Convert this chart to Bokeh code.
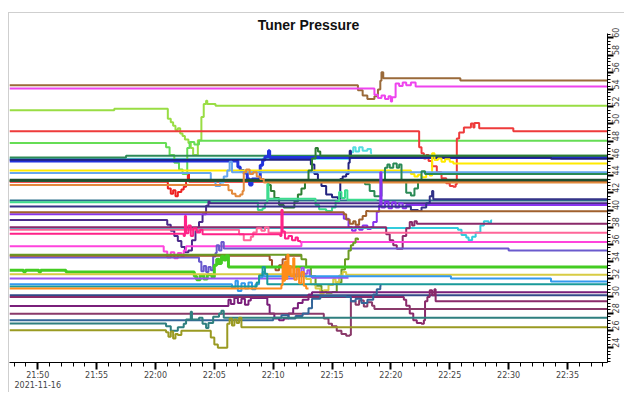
import math
from datetime import datetime, timedelta
from bokeh.plotting import figure
from bokeh.models import Range1d, FixedTicker, SingleIntervalTicker, DatetimeTickFormatter
from bokeh.embed import file_html
from bokeh.resources import INLINE

# Time axis: minutes after 2021-11-16 21:50:00; value: tuner pressure
T0 = datetime(2021, 11, 16, 21, 50, 0)

brown = [(-2.4,54.5),(27.2,53.9),(27.6,53.3),(28.0,52.9),(28.6,53.2),(28.9,54.0),(29.1,55.0),(29.2,56.0),(29.35,55.3),(35.9,55.05),(48.9,55.05)]
magenta = [(-2.4,54.1),(28.6,53.4),(28.9,53.0),(29.2,53.3),(29.5,52.9),(29.8,53.2),(30.0,52.6),(30.1,53.1),(30.4,54.7),(30.7,54.4),(31.0,54.8),(31.3,54.5),(31.7,54.8),(32.1,54.35),(48.9,54.35)]
yellowgreen = [(-2.4,51.6),(6.5,51.75),(11.05,50.6),(11.3,50.2),(11.5,49.8),(11.7,49.3),(11.9,49.5),(12.1,48.9),(12.3,48.6),(12.5,48.2),(12.8,47.8),(13.0,47.2),(13.2,46.4),(13.5,46.4),(13.6,48.1),(13.9,50.8),(14.1,52.3),(14.3,52.7),(14.4,52.3),(15.1,52.1),(48.9,52.1)]
green = [(-2.4,47.8),(10.9,47.3),(11.2,46.4),(11.6,45.5),(12.0,44.7),(12.3,44.2),(12.6,44.2),(12.7,47.2),(12.9,47.9),(13.3,47.6),(13.7,48.05),(48.9,48.05)]
red = [(-2.4,49.15),(32.4,47.3),(32.6,46.6),(32.8,46.0),(33.0,46.4),(33.2,45.7),(33.5,45.1),(33.9,44.4),(34.3,43.7),(34.7,43.1),(35.0,42.8),(35.3,42.7),(35.5,43.0),(35.6,48.3),(35.8,49.0),(36.2,49.6),(36.8,50.05),(37.0,49.6),(37.1,50.1),(37.5,49.5),(40.4,49.15),(48.9,49.15)]
cyan_top = [(-2.4,45.95),(26.6,46.7),(26.8,47.3),(27.0,46.8),(27.3,47.3),(27.6,46.9),(28.0,47.1),(28.3,46.6),(28.4,46.6)]
seagreen_dark = [(-2.4,46.1),(7.5,46.3),(48.9,46.3)]
blue = [(-2.4,45.7),(17.0,45.0),(17.2,44.6),(17.5,44.3),(17.8,43.6),(18.0,42.9),(18.2,43.6),(18.6,43.6),(18.9,45.2),(19.1,45.8),(19.3,46.2),(19.6,46.9),(19.7,46.1),(48.9,46.1)]
navy = [(-2.4,45.85),(23.2,45.3),(23.5,44.2),(23.8,43.5),(24.1,42.8),(24.5,41.8),(25.0,41.5),(25.5,41.3),(25.7,43.6),(25.9,43.9),(26.2,44.2),(26.4,45.5),(26.5,46.9),(26.6,46.1),(43.6,45.95),(48.9,45.95)]
yellow = [(-2.4,44.6),(31.7,44.2),(32.0,43.9),(32.3,44.1),(32.6,43.8),(33.0,44.2),(33.3,44.0),(33.5,46.6),(33.7,45.8),(34.0,46.0),(34.3,45.6),(34.6,45.9),(35.0,45.6),(35.3,45.4),(48.9,45.4)]
lightblue = [(-2.4,44.3),(14.7,43.4),(15.1,42.8),(15.5,43.2),(15.8,43.9),(16.1,44.6),(16.3,45.6),(16.5,44.4),(48.9,44.4)]
darkgreen1 = [(-2.4,43.4),(19.6,42.9),(19.8,42.2),(20.1,41.4),(20.5,40.6),(20.9,40.3),(21.5,40.3),(21.8,41.0),(22.1,41.8),(22.4,42.5),(22.7,43.5),(23.0,44.6),(23.3,46.0),(23.6,47.2),(23.8,46.8),(24.0,46.3),(48.9,46.3)]
darkgreen2 = [(-2.4,43.4),(27.8,43.0),(28.2,42.2),(28.6,41.6),(29.0,41.6),(29.2,43.5),(29.5,44.9),(29.7,45.3),(29.9,44.9),(30.2,45.4),(30.5,44.9),(30.7,45.3),(30.9,43.5),(31.3,42.0),(31.7,41.7),(32.0,42.5),(32.3,43.5),(32.6,44.5),(32.9,44.2),(48.9,44.2)]
red2 = [(-2.4,43.3),(11.05,42.5),(11.3,41.9),(11.5,42.3),(11.7,41.6),(11.9,42.1),(12.2,42.4),(12.4,42.7),(12.6,43.5),(12.75,44.3),(12.85,43.3),(48.9,43.3)]
darkgreen_thick = [(-2.4,43.45),(48.9,43.45)]
orange = [(-2.4,42.9),(16.2,42.3),(16.5,41.9),(16.8,41.6),(17.2,41.8),(17.4,42.2),(17.5,44.4),(17.7,44.7),(18.0,44.2),(18.3,44.4),(18.6,43.9),(18.9,43.6),(19.2,43.2),(48.9,43.2)]
teal_top = [(-2.4,41.1),(48.9,41.2)]
seagreen = [(-2.4,40.9),(18.7,40.0),(19.1,40.2),(19.3,40.8),(19.5,43.0),(19.6,41.3),(23.6,40.6),(23.9,40.1),(24.5,39.9),(25.0,40.3),(25.3,41.0),(25.6,42.1),(25.8,41.4),(26.1,42.3),(26.3,41.2),(28.8,41.2)]
indigo = [(-2.4,38.84),(11.0,38.3),(11.3,37.6),(11.6,37.0),(11.9,36.4),(12.2,35.7),(12.5,35.1),(12.8,35.3),(13.1,36.5),(13.4,37.6),(13.7,38.6),(14.0,39.5),(14.3,40.5),(14.5,41.0),(14.6,40.8),(48.9,40.8)]
violet = [(-2.4,39.5),(26.0,39.0),(26.4,38.0),(26.7,37.6),(27.0,38.1),(27.3,37.7),(27.6,38.2),(28.0,37.8),(28.3,38.0),(28.5,38.6),(28.8,39.8),(29.0,40.6),(29.1,44.4),(29.2,40.3),(29.5,41.0),(29.8,40.2),(30.1,40.9),(30.4,40.3),(30.7,40.8),(31.0,40.2),(31.3,40.6),(48.9,40.6)]
navy2 = [(-2.4,40.4),(31.7,40.0),(32.3,39.9),(32.6,40.3),(33.0,40.8),(33.3,41.6),(33.5,42.2),(33.6,41.25),(48.9,41.25)]
brown2 = [(-2.4,39.74),(26.0,39.5),(26.2,38.9),(26.5,38.4),(26.8,38.7),(27.0,38.3),(27.3,38.9),(27.6,39.3),(27.9,39.9),(28.1,39.85),(48.9,39.85)]
cyan2 = [(-2.4,37.93),(35.7,37.7),(36.0,37.1),(36.4,36.8),(36.6,36.5),(36.9,36.9),(37.2,37.4),(37.6,38.2),(37.9,38.7),(38.3,38.5),(38.5,38.8),(38.6,38.8)]
plum = [(-2.4,38.0),(29.6,37.2),(29.9,36.5),(30.2,35.9),(30.5,35.5),(30.9,35.5),(31.0,37.0),(31.3,37.9),(31.6,38.6),(31.8,38.2),(32.0,38.7),(32.2,38.4),(48.9,38.4)]
pink = [(-2.4,37.7),(17.1,37.2),(17.5,36.5),(18.1,36.9),(18.3,37.4),(18.6,37.9),(19.0,37.6),(19.3,38.0),(19.6,37.36),(48.9,37.36)]
deeppink = [(-2.4,37.25),(12.4,37.0),(12.5,39.3),(12.6,37.3),(12.8,38.2),(13.0,37.0),(13.2,37.9),(13.5,37.4),(13.8,37.7),(14.0,37.2),(20.6,37.0),(20.7,40.0),(20.8,37.5),(21.0,36.7),(21.3,37.0),(21.6,36.5),(21.9,36.8),(22.1,36.4),(22.3,36.3),(48.9,36.3)]
magenta2 = [(-2.4,35.8),(10.7,35.2),(11.0,34.5),(11.3,35.1),(11.6,34.4),(11.9,35.0),(12.2,34.6),(12.4,35.3),(12.6,35.8),(22.4,36.3),(48.9,36.3)]
slate = [(-2.4,34.5),(13.7,34.0),(13.9,32.9),(14.1,33.5),(14.3,32.8),(14.5,33.4),(14.7,33.0),(14.9,34.6),(15.1,35.0),(15.2,35.9),(15.4,35.3),(15.6,36.3),(15.8,35.55),(40.0,35.3),(48.9,35.3)]
sienna = [(-2.4,34.7),(19.7,34.2),(19.9,33.4),(20.2,33.0),(20.5,33.6),(20.8,34.3),(21.1,34.7),(22.4,34.7)]
olivedrab = [(-2.4,34.8),(22.4,34.3),(22.8,33.4),(23.2,32.3),(23.6,31.2),(24.1,30.6),(24.5,30.4),(25.0,30.5),(25.4,31.6),(25.8,33.1),(26.1,34.3),(26.4,35.3),(26.6,35.9),(26.8,36.2),(27.0,36.7),(27.2,36.5)]
green_bright = [(-2.4,33.0),(-1.2,32.8),(-1.05,33.0),(0.1,32.8),(0.25,33.0),(2.4,32.8),(13.3,32.3),(13.5,31.9),(13.8,32.4),(14.1,32.0),(14.4,32.5),(14.8,32.2),(15.0,33.6),(15.2,34.3),(15.4,33.8),(15.6,34.6),(15.8,34.2),(16.0,34.7),(16.2,33.4),(48.9,33.4)]
tan = [(-2.4,32.55),(22.8,32.0),(23.2,31.4),(23.6,30.9),(24.0,30.3),(24.3,30.7),(24.7,31.3),(25.1,32.0),(25.3,31.6),(25.6,32.4),(25.9,32.8),(26.2,32.5),(48.9,32.5)]
violet2 = [(-2.4,32.04),(21.8,32.5),(22.0,33.1),(22.2,32.4),(22.4,33.3),(22.6,32.6),(22.9,33.0),(23.1,32.3),(23.3,32.15),(26.4,32.15)]
dodgerblue = [(-2.4,31.4),(16.5,31.0),(16.8,31.8),(17.0,30.6),(17.3,31.5),(17.6,30.9),(17.9,31.6),(18.2,30.8),(18.5,31.4),(18.8,32.2),(19.1,32.8),(19.2,32.3),(35.1,32.04),(43.6,31.7),(48.9,31.7)]
teal3 = [(-2.4,31.13),(18.6,31.6),(18.8,32.4),(19.1,33.4),(19.3,32.6),(19.5,31.4),(48.9,31.4)]
orange2 = [(-2.4,30.9),(20.7,31.3),(20.8,33.6),(20.9,31.8),(21.0,34.0),(21.1,32.0),(21.2,34.8),(21.3,32.5),(21.4,33.5),(21.5,32.3),(21.7,34.4),(21.8,31.9),(22.0,33.2),(22.2,31.5),(22.4,32.8),(22.6,31.2),(22.8,30.9),(23.0,30.9)]
navy3 = [(-2.4,30.12),(48.9,30.12)]
darkpurple = [(-2.4,28.87),(16.2,29.6),(16.4,29.1),(16.7,29.8),(17.0,29.2),(17.3,29.7),(17.6,29.0),(17.9,29.5),(18.1,29.8),(19.3,29.8),(19.5,29.0),(19.7,28.0),(20.1,27.4),(20.5,27.2),(20.9,27.4),(21.3,28.0),(21.7,28.6),(22.1,29.2),(22.5,29.6),(23.0,30.2),(23.3,30.45),(48.9,30.45)]
plum2 = [(-2.4,29.9),(31.1,29.6),(31.3,28.9),(31.6,28.0),(31.9,27.2),(32.2,26.9),(32.6,26.8),(32.8,27.2),(32.9,29.4),(33.1,29.9),(33.3,30.7),(33.5,30.1),(33.7,30.8),(33.8,29.4),(48.9,29.4)]
mauve = [(-2.4,27.96),(24.3,27.4),(24.7,26.8),(25.0,26.5),(25.4,26.0),(25.8,25.6),(26.2,25.4),(26.5,25.5),(26.6,29.4),(27.0,29.0),(27.3,29.5),(27.7,28.8),(28.0,29.3),(28.4,28.9),(28.6,28.5),(48.9,28.5)]
steelblue = [(-2.4,27.2),(20.0,27.5),(20.7,27.8),(21.3,27.4),(21.9,27.7),(22.5,28.0),(23.0,28.6),(23.3,29.7),(24.0,30.0),(26.2,29.9),(26.6,29.4),(27.0,29.7),(27.5,29.2),(28.0,29.6),(28.5,30.2),(28.8,30.8),(29.1,31.2),(29.2,31.2)]
teal2 = [(-2.4,26.83),(10.9,26.5),(11.3,26.0),(11.9,26.4),(12.4,26.8),(12.6,27.3),(13.0,28.2),(13.1,27.3),(13.7,27.5),(14.0,26.8),(14.3,26.3),(14.5,26.9),(14.9,27.6),(15.4,28.0),(15.6,28.3),(15.8,27.5),(48.9,27.5)]
olive = [(-2.4,26.04),(10.9,25.8),(11.1,25.3),(11.3,25.9),(11.5,25.1),(11.7,25.6),(11.9,25.5),(12.2,26.0),(14.5,26.0),(14.7,25.2),(15.0,24.4),(15.3,24.0),(15.9,24.0),(16.1,26.8),(16.3,27.4),(16.5,26.6),(16.7,27.3),(16.9,26.9),(17.1,27.5),(17.3,26.4),(48.9,26.4)]

series = [
    (cyan_top, "#55dde0", 2), (red2, "#ee2222", 2), (brown, "#9a6a3a", 2), (magenta, "#ee44ee", 2),
    (yellowgreen, "#99dd44", 2), (green, "#66dd55", 2), (red, "#ee3b3b", 2),
    (seagreen_dark, "#2e8b57", 2), (blue, "#2233dd", 3), (navy, "#22227f", 2),
    (yellow, "#ffea00", 2), (lightblue, "#66a6ee", 2), (darkgreen1, "#2e7d32", 2),
    (darkgreen2, "#2a8a55", 2), (darkgreen_thick, "#1f4f2f", 3), (orange, "#e38a3c", 2),
    (teal_top, "#2a6f8a", 2), (seagreen, "#3cdc8e", 2), (indigo, "#4b2a8a", 2),
    (violet, "#8833ee", 2), (navy2, "#333388", 2), (brown2, "#a0602d", 2), (cyan2, "#33ccdd", 2),
    (plum, "#8a2a6a", 2), (pink, "#ff6699", 2), (deeppink, "#ff2288", 2), (magenta2, "#ff44dd", 2),
    (slate, "#6a5acd", 2), (sienna, "#a0522d", 2), (olivedrab, "#6b9a23", 2),
    (green_bright, "#44cc22", 3), (tan, "#d8cc44", 2), (violet2, "#9955ee", 2),
    (dodgerblue, "#3399ee", 2), (teal3, "#1a9a9a", 2), (orange2, "#ff8c1a", 2),
    (navy3, "#334a88", 2), (darkpurple, "#7a1f7a", 2), (plum2, "#8a2a6a", 2),
    (mauve, "#8a3a6a", 2), (steelblue, "#336699", 2), (teal2, "#2f7f7f", 2), (olive, "#9a9a22", 2),
]

def at(m):
    return T0 + timedelta(minutes=m)

def ms(dt):
    return (dt - datetime(1970, 1, 1)).total_seconds() * 1000.0

p = figure(width=616, height=380, x_axis_type="datetime", y_axis_location="right",
           output_backend="svg", toolbar_location=None,
           x_range=Range1d(at(-2.4), at(48.4)), y_range=Range1d(22.3, 60.5),
           min_border_left=0, min_border_right=1, min_border_top=0, min_border_bottom=0,
           title="Tuner Pressure")
p.margin = (12, 0, 0, 8)
p.styles = {"border-left": "1px solid #cfcfcf", "border-top": "1px solid #cfcfcf"}
p.outline_line_color = None
p.xgrid.visible = False
p.ygrid.visible = False
p.background_fill_color = "white"
p.border_fill_color = "white"

p.title.align = "center"
p.title.text_font = "Liberation Sans"
p.title.text_font_size = "14px"
p.title.text_font_style = "bold"
p.title.text_color = "#111111"
p.title.standoff = 2
p.title.offset = 12

for data, color, width in series:
    xs = [at(t) for t, v in data]
    ys = [v for t, v in data]
    p.step(xs, ys, mode="after", line_color=color, line_width=width)

xa = p.xaxis[0]
xa.ticker = FixedTicker(ticks=[ms(at(5 * k)) for k in range(0, 10)],
                        minor_ticks=[ms(at(k)) for k in range(-2, 50)])
xa.formatter = DatetimeTickFormatter(minutes="%H:%M", hourmin="%H:%M", minsec="%H:%M", hours="%H:%M",
                                     context="%Y-%m-%d", context_which="start", context_location="below")
xa.axis_line_color = "black"
xa.major_tick_in = 0
xa.major_tick_out = 7
xa.major_tick_line_width = 2
xa.minor_tick_in = 0
xa.minor_tick_out = 4
xa.major_label_text_font = "DejaVu Sans"
xa.major_label_text_font_size = "8px"
xa.major_label_text_color = "#444444"
xa.major_label_standoff = 1

ya = p.yaxis[0]
ya.ticker = SingleIntervalTicker(interval=2, num_minor_ticks=5)
ya.axis_line_color = "black"
ya.major_tick_in = 0
ya.major_tick_out = 6
ya.major_tick_line_width = 2
ya.minor_tick_in = 0
ya.minor_tick_out = 3
ya.major_label_orientation = math.pi / 2
ya.major_label_text_font = "DejaVu Sans"
ya.major_label_text_font_size = "8px"
ya.major_label_text_color = "#444444"
ya.major_label_standoff = 2

open("out.html", "w").write(file_html(p, INLINE))
